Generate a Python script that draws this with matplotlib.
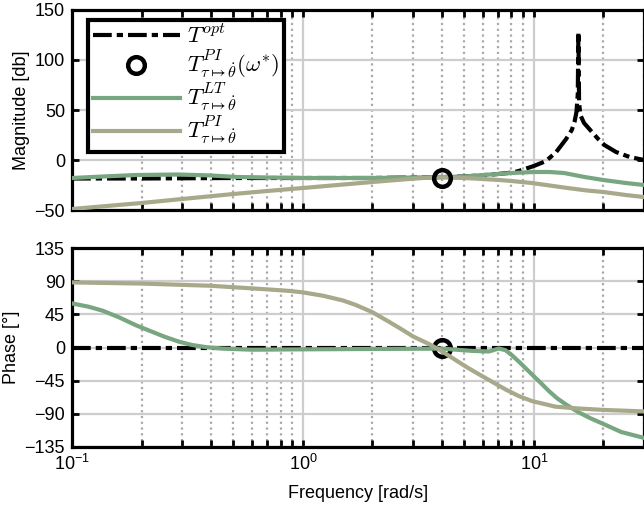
import numpy as np
import matplotlib
matplotlib.use('Agg')
import matplotlib.pyplot as plt
from matplotlib.ticker import LogLocator, NullFormatter, FixedLocator

plt.rcParams['font.family'] = ['Liberation Sans', 'DejaVu Sans']
plt.rcParams['mathtext.fontset'] = 'dejavusans'

# ---------------- data ----------------
# Magnitude [dB]
f_opt_mag = [0.1, 0.2, 0.5, 1, 2, 3, 4, 5, 6, 7, 8.1, 8.6, 10, 11.3, 12.5, 13.8, 14.6, 15.0, 15.3, 15.5, 15.6,
             15.7, 15.9, 16.5, 17.7, 19, 20.2, 22.7, 26, 30]
opt_mag = [-18.5, -18.5, -18, -18, -18, -17.5, -17, -16.5, -15.2, -14, -12.5, -11, -6, -1, 8, 21, 30, 38, 48, 66,
           128, 58, 45, 37, 29, 21, 15, 8, 3, 0]

f_lt_mag = [0.1, 0.136, 0.19, 0.29, 0.4, 0.52, 0.7, 1, 1.5, 2, 3, 4, 5, 6, 7, 8, 10, 11.7, 13.5, 16.6, 20, 25, 30]
lt_mag = [-18, -16.5, -15, -14.5, -15.5, -17, -17.5, -18, -18, -18, -17.5, -17, -16.5, -15, -14, -13, -12, -12,
          -13, -17, -20, -23, -25]

f_pi_mag = [0.1, 0.2, 0.3, 0.5, 0.7, 1, 1.5, 2, 2.7, 3.3, 4, 5, 6, 7.1, 8, 9.8, 11.7, 14, 17, 20, 25, 30]
pi_mag = [-49, -43, -39, -34, -31, -28, -24.5, -22, -19.5, -18, -17.5, -18, -19, -20, -21, -23, -25.5, -28,
          -30.5, -32, -35, -37]

# Phase [deg]
f_opt_ph = [0.1, 30]
opt_ph = [0, 0]

f_lt_ph = [0.1, 0.118, 0.136, 0.16, 0.19, 0.22, 0.25, 0.29, 0.33, 0.38, 0.45, 0.6, 1, 2, 4, 5.4, 6.4,
           7.05, 7.53, 8.0, 8.6, 9.2, 9.84, 10.7, 11.6, 12.6, 13.7, 15.6, 17.5, 20, 23.9, 30]
lt_ph = [60, 55.5, 50, 41, 30, 22, 15, 8, 3.5, 0.5, -1.5, -3, -2.5, -2, -1.5, -4.6, -5.4,
         -1.3, -3.6, -10, -19, -28, -37, -48, -59, -69, -77, -88, -96, -104, -115, -123]

f_pi_ph = [0.1, 0.2, 0.4, 0.71, 0.874, 1, 1.22, 1.49, 1.69, 2, 2.36, 2.7, 3.0, 3.5, 3.9, 4.5, 5.2, 5.98,
           7.53, 8.6, 9.84, 12.4, 15.6, 20.2, 30]
pi_ph = [88.6, 87, 84, 79, 77, 75, 70.5, 64, 58, 48, 35, 24, 15, 5, -3, -15.5, -28, -39,
         -57, -66, -73, -80.5, -83, -85, -87]

w_star = [4.0]
w_star_mag = [-17.5]
w_star_ph = [0.0]

mag_ticks = [-50, 0, 50, 100, 150]
ph_ticks = [-135, -90, -45, 0, 45, 90, 135]

# ---------------- style ----------------
c_lt = '#77a680'
c_pi = '#a7a98a'
dashdot = (0, (4.5, 1.2, 1.5, 1.2))

W, H = 644, 522
fig = plt.figure(figsize=(W / 100, H / 100), dpi=100)
ax1 = fig.add_axes([72 / W, 1 - 210 / H, 572 / W, 200 / H])
ax2 = fig.add_axes([72 / W, 1 - 446.7 / H, 572 / W, 198.4 / H])

for ax in (ax1, ax2):
    ax.set_xscale('log')
    ax.set_xlim(0.1, 30)
    ax.xaxis.set_minor_locator(LogLocator(base=10, subs=range(2, 10), numticks=20))
    ax.xaxis.set_minor_formatter(NullFormatter())
    ax.set_axisbelow(True)
    ax.grid(which='major', axis='both', color='#cdcdcd', lw=1.6, ls='-')
    ax.grid(which='minor', axis='x', color='#a9a9a9', lw=1.6, ls=(0, (1, 1.6)))
    ax.tick_params(which='both', direction='in', top=True, right=True, length=5, width=2,
                   labelsize=13, pad=5)
    for s in ax.spines.values():
        s.set_linewidth(2.3)

# Magnitude
ax1.plot(f_opt_mag, opt_mag, color='black', lw=3, ls=dashdot, label=r'$T^{opt}$', zorder=3)
ax1.plot(w_star, w_star_mag, 'o', ms=12, mfc='none', mec='black', mew=3.2, zorder=5,
         label=r'$T^{PI}_{\tau\mapsto\dot{\theta}}(\omega^{*})$')
ax1.plot(f_lt_mag, lt_mag, color=c_lt, lw=3, label=r'$T^{LT}_{\tau\mapsto\dot{\theta}}$', zorder=4)
ax1.plot(f_pi_mag, pi_mag, color=c_pi, lw=3, label=r'$T^{PI}_{\tau\mapsto\dot{\theta}}$', zorder=4)
ax1.set_ylim(-50, 150)
ax1.yaxis.set_major_locator(FixedLocator(mag_ticks))
ax1.tick_params(labelbottom=False)
ax1.set_ylabel('Magnitude [db]', fontsize=13, labelpad=3)

leg = ax1.legend(loc='upper left', bbox_to_anchor=(16 / 572, 0.95), borderaxespad=0,
                 fontsize=16.5, handlelength=3.8, handletextpad=0.3, labelspacing=0.0,
                 frameon=True, fancybox=False, edgecolor='black', framealpha=1,
                 borderpad=0.2)
leg.get_frame().set_linewidth(3)
for t in leg.get_texts():
    t.set_math_fontfamily('cm')

# Phase
ax2.plot(f_opt_ph, opt_ph, color='black', lw=3, ls=dashdot, zorder=3)
ax2.plot(w_star, w_star_ph, 'o', ms=12, mfc='none', mec='black', mew=3.2, zorder=3.5)
ax2.plot(f_lt_ph, lt_ph, color=c_lt, lw=3, zorder=4)
ax2.plot(f_pi_ph, pi_ph, color=c_pi, lw=3, zorder=4)
ax2.set_ylim(-135, 135)
ax2.yaxis.set_major_locator(FixedLocator(ph_ticks))
ax2.set_ylabel('Phase [°]', fontsize=13, labelpad=3)
ax2.set_xlabel('Frequency [rad/s]', fontsize=13, labelpad=8)

fig.savefig('out.png', dpi=100)
